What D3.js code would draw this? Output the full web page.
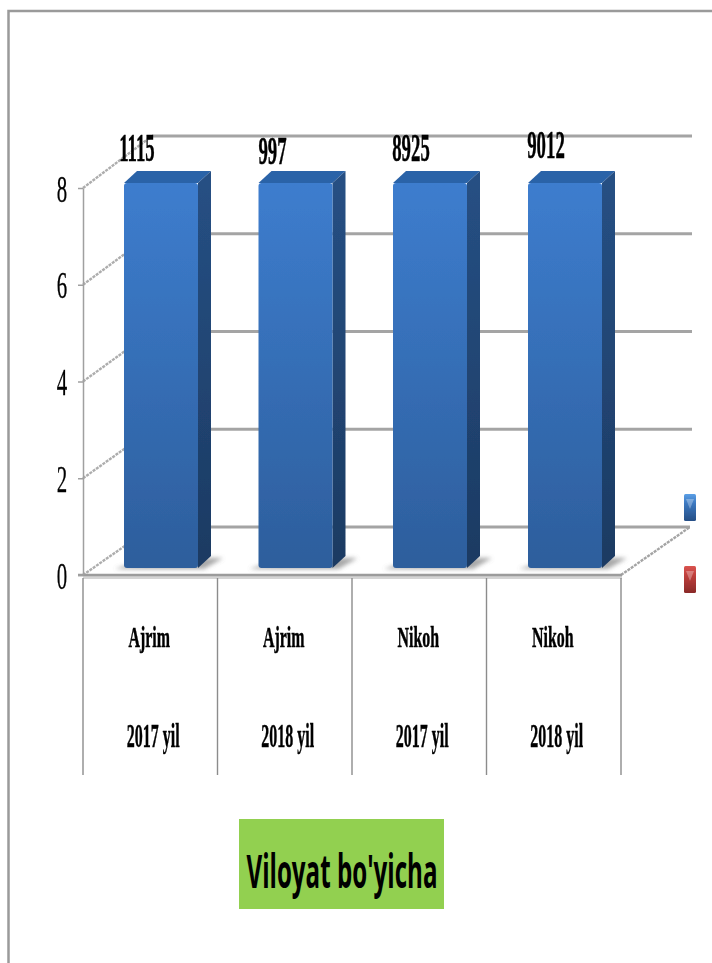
<!DOCTYPE html>
<html>
<head>
<meta charset="utf-8">
<script src="https://cdnjs.cloudflare.com/ajax/libs/d3/7.8.5/d3.min.js"></script>
<style>
  html, body { margin: 0; padding: 0; background: #fff; }
  svg { display: block; }
  text { font-family: "Liberation Serif", serif; fill: #000; }
</style>
</head>
<body>
<div id="chart"></div>
<script>
// Chart values
const groupLabels = ["Ajrim", "Ajrim", "Nikoh", "Nikoh"];
const yearLabels = ["2017 yil", "2018 yil", "2017 yil", "2018 yil"];
const barValues = [1115, 997, 8925, 9012];
const axisTicks = [0, 2, 4, 6, 8];
const titleText = "Viloyat bo'yicha";

// Hand placed nudges for the value labels, they sit unevenly in the original
const labelNudgeX = [-24, -23, -19, -19];
const labelNudgeY = [-22, -19, -22, -25];

const width = 712, height = 963;
const svg = d3.select("#chart").append("svg").attr("width", width).attr("height", height);
const defs = svg.append("defs");

// Gradients for the 3d look
function addGradient(id, stops) {
    const g = defs.append("linearGradient").attr("id", id)
        .attr("x1", 0).attr("y1", 0).attr("x2", 0).attr("y2", 1);
    stops.forEach((s) => g.append("stop").attr("offset", s[0]).attr("stop-color", s[1]));
}
addGradient("barFront", [[0, "#3d7dce"], [1, "#2d5e9c"]]);
addGradient("barSide", [[0, "#265084"], [1, "#1c3a62"]]);
addGradient("keyBlue", [[0, "#5b9fe6"], [0.35, "#3c78c0"], [1, "#264f86"]]);
addGradient("keyRed", [[0, "#d9534f"], [0.35, "#bf3f3c"], [1, "#8a2a28"]]);

defs.append("filter").attr("id", "soft").attr("x", "-5%").attr("y", "-5%").attr("width", "110%").attr("height", "110%")
    .append("feGaussianBlur").attr("stdDeviation", 0.7);
defs.append("filter").attr("id", "shadow").attr("x", "-20%").attr("y", "-80%").attr("width", "140%").attr("height", "260%")
    .append("feGaussianBlur").attr("stdDeviation", 2);

// Outer frame, only top and left edges are visible
svg.append("path").attr("d", "M8.5,963V11H712").attr("fill", "none").attr("stroke", "#9a9a9a").attr("stroke-width", 2.5);

// Scales
const x = d3.scaleBand().domain(d3.range(barValues.length)).range([83, 621]);
const y = d3.scaleLinear().domain([0, 8]).range([575, 188]).clamp(true);
const backY = d3.scaleLinear().domain([0, 8]).range([527, 136]).clamp(true);
const barY = d3.scaleLinear().domain([0, 8]).range([568, 183]).clamp(true);

const depthX = 69;
const chart = svg.append("g").attr("filter", "url(#soft)");

// Back wall gridlines
chart.append("g").selectAll("line").data(axisTicks).enter().append("line")
    .attr("x1", (d) => 83 + depthX)
    .attr("x2", (d) => d === 0 ? 621 + depthX : 692)
    .attr("y1", (d) => backY(d))
    .attr("y2", (d) => backY(d))
    .attr("stroke", "#a4a4a4").attr("stroke-width", 3);

// Side wall gridlines
chart.append("g").selectAll("line").data(axisTicks).enter().append("line")
    .attr("x1", 83).attr("x2", 83 + depthX)
    .attr("y1", (d) => y(d))
    .attr("y2", (d) => backY(d))
    .attr("stroke", "#adadad").attr("stroke-width", 2.4).attr("stroke-dasharray", "3 1");

// Floor right edge and front edge
chart.append("line").attr("x1", 621).attr("x2", 621 + depthX)
    .attr("y1", y(0)).attr("y2", backY(0))
    .attr("stroke", "#a4a4a4").attr("stroke-width", 2.4).attr("stroke-dasharray", "3 1");
chart.append("line").attr("x1", 83).attr("x2", 622)
    .attr("y1", y(0) + 2.5).attr("y2", y(0) + 2.5)
    .attr("stroke", "#d4d4d4").attr("stroke-width", 3);
chart.append("line").attr("x1", 78).attr("x2", 622)
    .attr("y1", y(0)).attr("y2", y(0))
    .attr("stroke", "#9c9c9c").attr("stroke-width", 2.5);

// Bars
const barW = 74;
const sideX = 13, sideY = -12;
const barLeft = (i) => x(i) + 41 + (i === 3 ? 0.5 : 0);

const bars = chart.append("g").selectAll("g").data(barValues).enter().append("g");

// floor shadow
bars.append("polygon")
    .attr("points", (d, i) => {
        const l = barLeft(i), b = barY(0);
        return [[l - 9, b + 1], [l + barW + 6, b + 1], [l + barW + sideX + 12, b + sideY + 2], [l + barW + 8, b + sideY + 2], [l, b - 2]].join(" ");
    })
    .attr("fill", "#9a9a9a").attr("opacity", 0.85).attr("filter", "url(#shadow)");

bars.append("polygon") // top face
    .attr("points", (d, i) => {
        const l = barLeft(i), t = barY(d);
        return [[l, t], [l + sideX, t + sideY], [l + barW + sideX, t + sideY], [l + barW, t]].join(" ");
    })
    .attr("fill", "#2c63a8");

bars.append("polygon") // side face
    .attr("points", (d, i) => {
        const l = barLeft(i) + barW, t = barY(d), b = barY(0);
        return [[l, t], [l + sideX, t + sideY], [l + sideX, b + sideY], [l, b]].join(" ");
    })
    .attr("fill", "url(#barSide)");

bars.append("rect") // front face
    .attr("x", (d, i) => barLeft(i))
    .attr("y", (d) => barY(d))
    .attr("width", barW)
    .attr("height", (d) => barY(0) - barY(d))
    .attr("rx", 3)
    .attr("fill", "url(#barFront)");

// Y axis
const yAxis = chart.append("g").attr("transform", "translate(83,0)")
    .call(d3.axisLeft(y).tickValues(axisTicks).tickSize(5).tickSizeOuter(0));
yAxis.select(".domain").attr("stroke", "#a0a0a0").attr("stroke-width", 1.5);
yAxis.selectAll(".tick line").attr("stroke", "#a0a0a0").attr("stroke-width", 1.5);
yAxis.selectAll(".tick text")
    .attr("x", null).attr("dy", null)
    .attr("text-anchor", "middle")
    .attr("font-size", 38)
    .attr("stroke", "#000").attr("stroke-width", 0.3)
    .attr("transform", "translate(-21,13) scale(0.55,1)");

// Category table under the floor
chart.append("g").selectAll("line").data(d3.range(barValues.length + 1)).enter().append("line")
    .attr("x1", (d) => d < barValues.length ? x(d) : x.range()[1])
    .attr("x2", (d) => d < barValues.length ? x(d) : x.range()[1])
    .attr("y1", y(0) + 3).attr("y2", 775)
    .attr("stroke", "#8c8c8c").attr("stroke-width", 1.4);

function squeezed(parent, cls, data, px, py, size, sx, weight) {
    return parent.append("g").attr("class", cls).selectAll("text").data(data).enter().append("text")
        .attr("text-anchor", "middle")
        .attr("font-size", size)
        .attr("font-weight", weight)
        .attr("stroke", "#000").attr("stroke-width", 0.5)
        .attr("transform", (d, i) => "translate(" + px(d, i) + "," + py(d, i) + ") scale(" + sx + ",1)")
        .text((d) => d);
}
const bandMid = (d, i) => x(i) + x.bandwidth() / 2;
squeezed(chart, "groups", groupLabels, (d, i) => bandMid(d, i) - 1, () => 647, 30, 0.53, "bold");
squeezed(chart, "years", yearLabels, (d, i) => bandMid(d, i) + 3, () => 747, 34, 0.47, "bold");

// Value labels, the bars hit the top of the axis so the text carries the real numbers
squeezed(chart, "values", barValues, (d, i) => barLeft(i) + barW / 2 + labelNudgeX[i], (d, i) => barY(d) + labelNudgeY[i], 40, 0.47, "bold");

// Legend keys, their text is cut off in the original
const keys = chart.append("g").selectAll("g").data(["keyBlue", "keyRed"]).enter().append("g")
    .attr("transform", (d, i) => "translate(684," + (494 + i * 72) + ")");
keys.append("rect").attr("width", 12).attr("height", 27).attr("rx", 1.5).attr("fill", (d) => "url(#" + d + ")");
keys.append("path").attr("d", "M2,5H10L6,15Z").attr("fill", "#ffffff").attr("opacity", 0.3);

// Green title box
svg.append("rect").attr("x", 239).attr("y", 819).attr("width", 205).attr("height", 90).attr("fill", "#92d050");
svg.append("text")
    .attr("text-anchor", "middle")
    .attr("font-size", 46)
    .attr("font-weight", "bold")
    .style("font-family", "'Open Sans', sans-serif")
    .attr("transform", "translate(342,888) scale(0.525,1)")
    .text(titleText);
</script>
</body>
</html>
